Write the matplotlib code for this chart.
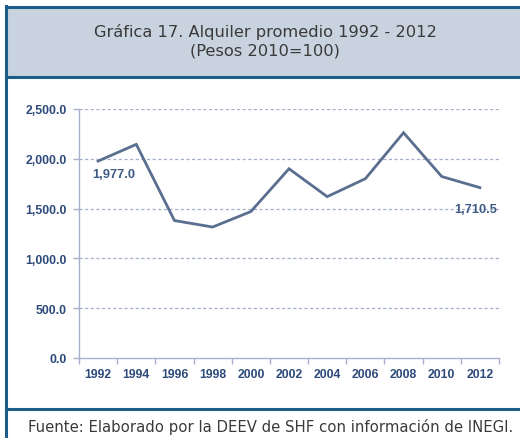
import matplotlib
matplotlib.use("Agg")
import matplotlib.pyplot as plt
from matplotlib.patches import Rectangle
from matplotlib.lines import Line2D

years = ["1992", "1994", "1996", "1998", "2000", "2002", "2004", "2006", "2008", "2010", "2012"]
rent = [1977.0, 2145.0, 1380.0, 1315.0, 1470.0, 1900.0, 1620.0, 1800.0, 2262.0, 1822.0, 1710.5]
yticks = [0, 500, 1000, 1500, 2000, 2500]
title_lines = ["Gráfica 17. Alquiler promedio 1992 - 2012", "(Pesos 2010=100)"]
footer = "Fuente: Elaborado por la DEEV de SHF con información de INEGI."

W, H = 520, 439
fig = plt.figure(figsize=(W / 100, H / 100), dpi=100)
fig.patch.set_facecolor("white")

def fx(px):
    return px / W

def fy(py):
    return 1 - py / H

border = "#1B5E8A"
# title box
fig.patches.append(Rectangle((fx(6), fy(77)), fx(520 - 6), fy(8) - fy(77),
                             transform=fig.transFigure, facecolor="#C9D3DF",
                             edgecolor="none", zorder=0))
fig.lines.append(Line2D([fx(6), 1], [fy(8), fy(8)], transform=fig.transFigure, color=border, lw=2.2))
fig.lines.append(Line2D([fx(6), 1], [fy(77.5), fy(77.5)], transform=fig.transFigure, color=border, lw=2.2))
fig.lines.append(Line2D([fx(6), 1], [fy(410), fy(410)], transform=fig.transFigure, color=border, lw=2.2))
fig.lines.append(Line2D([fx(6), fx(6)], [fy(7), 0], transform=fig.transFigure, color=border, lw=2.2))

fig.text(fx(265), fy(32), title_lines[0], ha="center", va="center", fontsize=11.7,
         color="#3a3a3a", family="DejaVu Sans")
fig.text(fx(265), fy(51), title_lines[1], ha="center", va="center", fontsize=11.7,
         color="#3a3a3a", family="DejaVu Sans")
fig.text(fx(271), fy(427), footer, ha="center", va="center", fontsize=10.7,
         color="#3a3a3a", family="DejaVu Sans")

ax = fig.add_axes([fx(79), fy(359), fx(499) - fx(79), fy(110) - fy(359)])
ax.set_facecolor("none")
x = list(range(len(years)))
ax.plot(x, rent, color="#5A6E8F", lw=2.0, solid_joinstyle="miter", zorder=3)

ax.set_xlim(-0.5, len(years) - 0.5)
ax.set_ylim(0, 2500)
ax.set_yticks(yticks)
ax.set_yticklabels([f"{v:,.1f}" for v in yticks])
ax.set_xticks(x)
ax.set_xticklabels(years)
ax.set_xticks([i - 0.5 for i in range(len(years) + 1)], minor=True)
ax.tick_params(axis="x", which="major", length=0, pad=7)
ax.tick_params(axis="x", which="minor", length=4, color="#A8B0CC", width=1)
ax.tick_params(axis="y", length=4, color="#A8B0CC", width=1, pad=5)
for lab in ax.get_xticklabels() + ax.get_yticklabels():
    lab.set_fontsize(8.8)
    lab.set_color("#2E4A7A")
    lab.set_family("Liberation Sans")
    lab.set_fontweight("bold")

for v in yticks[1:]:
    ax.axhline(v, color="#A3AECB", lw=0.9, ls=(0, (2.5, 2)), zorder=1)

for s in ["top", "right"]:
    ax.spines[s].set_visible(False)
ax.spines["left"].set_color("#A8B0CC")
ax.spines["bottom"].set_color("#A8B0CC")
ax.spines["left"].set_linewidth(1)
ax.spines["bottom"].set_linewidth(1)

ax.annotate(f"{rent[0]:,.1f}", (x[0], rent[0]), xytext=(11, -9), textcoords="offset points",
            ha="center", va="center", fontsize=9.3, color="#3F5A84",
            family="Liberation Sans", fontweight="bold")
ax.annotate(f"{rent[-1]:,.1f}", (x[-1], rent[-1]), xytext=(-3, -15.5), textcoords="offset points",
            ha="center", va="center", fontsize=9.3, color="#3F5A84",
            family="Liberation Sans", fontweight="bold")

fig.savefig("out.png", dpi=100, facecolor="white")
